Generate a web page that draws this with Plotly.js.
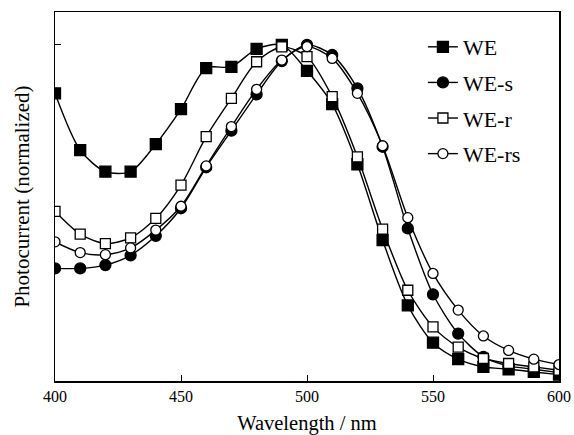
<!DOCTYPE html>
<html>
<head>
<meta charset="utf-8">
<script src="https://cdn.plot.ly/plotly-3.0.1.min.js"></script>
<style>html,body{margin:0;padding:0;background:#fff;}#chart{width:574px;height:435px;}</style>
</head>
<body>
<div id="chart"></div>
<script>
var wavelength = [400,410,420,430,440,450,460,470,480,490,500,510,520,530,540,550,560,570,580,590,600];
var WE    = [0.856,0.687,0.623,0.623,0.705,0.809,0.931,0.935,0.988,1.000,0.923,0.824,0.645,0.419,0.225,0.114,0.065,0.042,0.035,0.027,0.019];
var WE_s  = [0.335,0.335,0.345,0.374,0.432,0.514,0.636,0.745,0.853,0.952,1.000,0.970,0.871,0.697,0.454,0.258,0.141,0.072,0.045,0.035,0.025];
var WE_r  = [0.505,0.437,0.409,0.426,0.484,0.583,0.727,0.841,0.950,0.994,0.965,0.846,0.667,0.452,0.270,0.161,0.101,0.067,0.052,0.042,0.032];
var WE_rs = [0.414,0.382,0.376,0.396,0.449,0.520,0.640,0.757,0.868,0.955,0.995,0.960,0.856,0.700,0.486,0.320,0.211,0.134,0.091,0.065,0.049];
var seriesNames = ['WE','WE-s','WE-r','WE-rs'];

function tr(name, y, symbol, fill, size) {
  return {
    x: wavelength, y: y, name: name, legendgroup: name, type: 'scatter', mode: 'lines+markers',
    line: {color: '#000', width: 1.4, shape: 'spline', smoothing: 0.8},
    marker: {symbol: symbol, size: size, color: fill, line: {color: '#000', width: 1.3}}
  };
}
var data = [
  tr(seriesNames[0], WE, 'square', '#000', 11),
  tr(seriesNames[1], WE_s, 'circle', '#000', 11),
  tr(seriesNames[2], WE_r, 'square', '#fff', 10),
  tr(seriesNames[3], WE_rs, 'circle', '#fff', 10)
];
var font = {family: '"Liberation Serif", "Times New Roman", serif', color: '#000'};
var layout = {
  width: 574, height: 435,
  margin: {l: 55, r: 15, t: 12, b: 54},
  paper_bgcolor: '#fff', plot_bgcolor: '#fff',
  showlegend: true,
  font: font,
  xaxis: {
    range: [400, 600], tickvals: [400,450,500,550,600], ticks: 'inside', ticklen: 6,
    tickcolor: '#000', showline: true, linecolor: '#000', linewidth: 1.5, mirror: true,
    showgrid: false, zeroline: false,
    tickfont: {family: font.family, size: 16, color: '#000'},
    title: {text: 'Wavelength / nm', font: {family: font.family, size: 20.5, color: '#000'}, standoff: 12}
  },
  yaxis: {
    range: [0, 1.098], tickvals: [1.0], ticktext: [''], ticks: 'inside', ticklen: 6,
    tickcolor: '#000', showline: true, linecolor: '#000', linewidth: 1.5, mirror: true,
    showgrid: false, zeroline: false, showticklabels: true,
    title: {text: 'Photocurrent (normalized)', font: {family: font.family, size: 21, color: '#000'}, standoff: 16}
  },
  legend: {
    x: 0.730, y: 0.962, xanchor: 'left', yanchor: 'top',
    font: {family: font.family, size: 22, color: '#000'},
    bgcolor: 'rgba(0,0,0,0)', tracegroupgap: 4, itemwidth: 30
  }
};
Plotly.newPlot('chart', data, layout, {displayModeBar: false, staticPlot: true});
</script>
</body>
</html>
